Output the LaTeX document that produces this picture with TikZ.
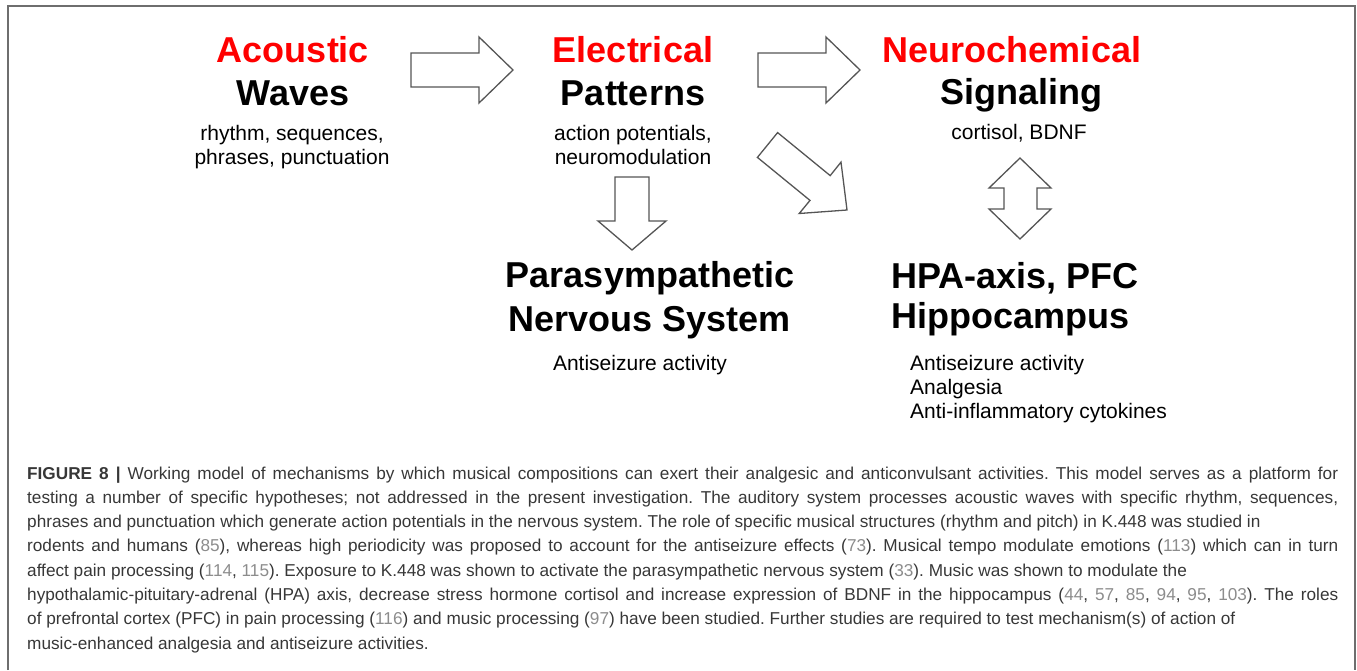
\documentclass[tikz,border=0pt]{standalone}
\usepackage{fontspec}
\setmainfont{Liberation Sans}
\definecolor{hdred}{RGB}{255,0,0}
\definecolor{arrowgray}{RGB}{85,85,85}
\definecolor{framegray}{RGB}{110,110,110}
\definecolor{captext}{RGB}{55,55,55}
\definecolor{citegray}{RGB}{140,140,140}
\newcommand{\cit}[1]{\textcolor{citegray}{#1}}
\newcommand{\fullline}[1]{\makebox[1311pt][s]{#1}}
\hbadness=10000
\frenchspacing
\begin{document}
\begin{tikzpicture}[x=1pt,y=-1pt,
  head/.style={font=\fontsize{36}{36}\selectfont\bfseries, anchor=base, inner sep=0pt},
  redhead/.style={head, text=hdred},
  sub/.style={font=\fontsize{21}{21}\selectfont, anchor=base, inner sep=0pt},
  captionline/.style={font=\fontsize{17.2}{17.2}\selectfont\frenchspacing, anchor=base west, inner sep=0pt, text=captext},
  blockarrow/.style={draw=arrowgray, line width=1.3pt, fill=white, line join=miter},
  frameline/.style={draw=framegray, line width=2pt}]
\useasboundingbox (0,0) rectangle (1357,670);
\draw[frameline] (8,670) -- (8,6) -- (1355,6) -- (1355,670);

% column 1
\node[redhead] (ac) at (293,62) {Acoustic};
\node[head] (wv) at (293,105) {Waves};
\node[sub] (ac1) at (292,140) {rhythm, sequences,};
\node[sub] (ac2) at (292,164) {phrases, punctuation};

% column 2
\node[redhead] (el) at (633,62) {Electrical};
\node[head] (pt) at (633,105) {Patterns};
\node[sub] (el1) at (633,140) {action potentials,};
\node[sub] (el2) at (633,164) {neuromodulation};

% column 3
\node[redhead] (ne) at (1012,62) {Neurochemical};
\node[head] (sg) at (1021,104) {Signaling};
\node[sub] (ne1) at (1019,139) {cortisol, BDNF};

% lower left
\node[head] (ps) at (650,287) {Parasympathetic};
\node[head] (nv) at (650,331) {Nervous System};
\node[sub] (ps1) at (640,370) {Antiseizure activity};

% lower right
\node[head, anchor=base west] (hp) at (891,288) {HPA-axis, PFC};
\node[head, anchor=base west] (hc) at (891,328) {Hippocampus};
\node[sub, anchor=base west] (hp1) at (910,370) {Antiseizure activity};
\node[sub, anchor=base west] (hp2) at (910,394) {Analgesia};
\node[sub, anchor=base west] (hp3) at (910,418) {Anti-inflammatory cytokines};

% block arrows
\draw[blockarrow] (411,53) -- (479,53) -- (479,37) -- (513,70) -- (479,103) -- (479,87) -- (411,87) -- cycle;
\draw[blockarrow] (758,53) -- (826,53) -- (826,37) -- (860,70) -- (826,103) -- (826,87) -- (758,87) -- cycle;
\draw[blockarrow] (615,177) -- (615,221) -- (598,221) -- (632,250) -- (666,221) -- (649,221) -- (649,177) -- cycle;
\draw[blockarrow] (757.4,157.4) -- (810,200.4) -- (799.2,213.5) -- (847,210) -- (841,162.1) -- (830.2,175.6) -- (777.6,132.6) -- cycle;
\draw[blockarrow] (1020,158) -- (1051,188) -- (1037,188) -- (1037,209) -- (1051,209) -- (1020,239) -- (989,209) -- (1004,209) -- (1004,188) -- (989,188) -- cycle;

% caption
\node[captionline] (c1) at (27,479) {\fullline{\textbf{FIGURE 8 |} Working model of mechanisms by which musical compositions can exert their analgesic and anticonvulsant activities. This model serves as a platform for}};
\node[captionline] (c2) at (27,503.3) {\fullline{testing a number of specific hypotheses; not addressed in the present investigation. The auditory system processes acoustic waves with specific rhythm, sequences,}};
\node[captionline] (c3) at (27,527.6) {phrases and punctuation which generate action potentials in the nervous system. The role of specific musical structures (rhythm and pitch) in K.448 was studied in};
\node[captionline] (c4) at (27,551.9) {\fullline{rodents and humans (\cit{85}), whereas high periodicity was proposed to account for the antiseizure effects (\cit{73}). Musical tempo modulate emotions (\cit{113}) which can in turn}};
\node[captionline] (c5) at (27,576.2) {affect pain processing (\cit{114}, \cit{115}). Exposure to K.448 was shown to activate the parasympathetic nervous system (\cit{33}). Music was shown to modulate the};
\node[captionline] (c6) at (27,600.5) {\fullline{hypothalamic-pituitary-adrenal (HPA) axis, decrease stress hormone cortisol and increase expression of BDNF in the hippocampus (\cit{44}, \cit{57}, \cit{85}, \cit{94}, \cit{95}, \cit{103}). The roles}};
\node[captionline] (c7) at (27,624.8) {of prefrontal cortex (PFC) in pain processing (\cit{116}) and music processing (\cit{97}) have been studied. Further studies are required to test mechanism(s) of action of};
\node[captionline] (c8) at (27,649.1) {music-enhanced analgesia and antiseizure activities.};
\end{tikzpicture}
\end{document}
